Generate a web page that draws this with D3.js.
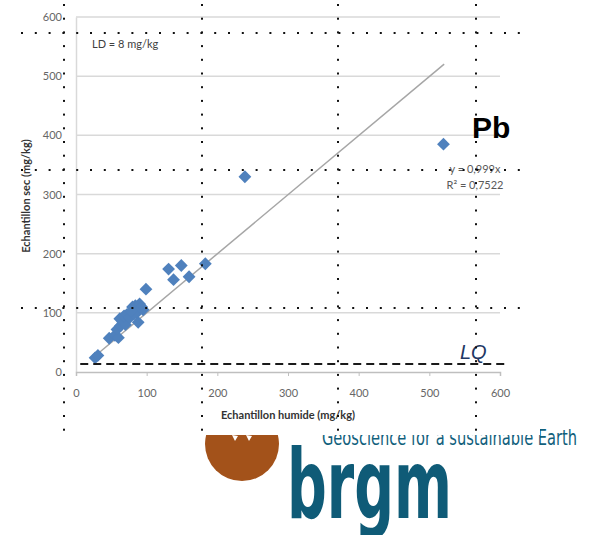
<!DOCTYPE html>
<html><head><meta charset="utf-8">
<script src="https://cdn.jsdelivr.net/npm/d3@7"></script>
<style>html,body{margin:0;padding:0;background:#fff;} svg{display:block;}</style>
</head><body>
<svg id="c" width="596" height="535"></svg>
<script>
// ---- data ----
const humide = [27, 31, 47, 55, 60, 58, 63, 66, 70, 62, 68, 72, 76, 80, 84, 88, 90, 93, 95, 86, 82, 78, 88, 99, 131, 138, 149, 160, 183, 239, 520];
const sec    = [24, 28, 57, 62, 58, 72, 78, 85, 80, 90, 95, 97, 92, 110, 112, 108, 115, 110, 105, 100, 98, 103, 84, 140, 174, 156, 180, 161, 183, 330, 385];
const xTicks = [0, 100, 200, 300, 400, 500, 600];
const yTicks = [0, 100, 200, 300, 400, 500, 600];
const slope = 0.999;
const fitRange = [27, 521];
const LQ = 13.5;
const lqRange = [6, 611];
const eqLines = ["y = 0,999x", "R² = 0,7522"];
const ldLabel = "LD = 8 mg/kg";
const element = "Pb";
const xTitle = "Echantillon humide (mg/kg)";
const yTitle = "Echantillon sec (mg/kg)";

const svg = d3.select("#c");
const F = "Lato, 'Open Sans', sans-serif";

// ---- logo (behind chart) ----
const logo = svg.append("g");
logo.append("defs").append("clipPath").attr("id","circClip")
  .append("rect").attr("x",0).attr("y",435).attr("width",596).attr("height",100);
logo.append("circle").attr("cx",242).attr("cy",444).attr("r",37)
  .attr("fill","#a3521a").attr("clip-path","url(#circClip)");
logo.append("path").attr("d","M232,435 L235,441 L238,436 Z M246,435 L249,441 L252,436 Z").attr("fill","#fff");
logo.append("text").attr("x",322).attr("y",445)
  .attr("font-family","'DejaVu Sans Condensed','DejaVu Sans',sans-serif")
  .attr("font-size",21).attr("fill","#11607c")
  .attr("textLength",255).attr("lengthAdjust","spacingAndGlyphs")
  .text("Geoscience for a sustainable Earth");
logo.append("text").attr("x",287).attr("y",518)
  .attr("font-family","'DejaVu Sans Condensed','DejaVu Sans',sans-serif")
  .attr("font-weight","bold").attr("font-size",96).attr("fill","#0f5b77")
  .attr("textLength",165).attr("lengthAdjust","spacingAndGlyphs")
  .text("brgm");
// chart picture background covering top of logo
svg.append("rect").attr("x",0).attr("y",0).attr("width",540).attr("height",435).attr("fill","#fff");

// ---- chart ----
const x = d3.scaleLinear().domain([0,600]).range([76,500]);
const y = d3.scaleLinear().domain([0,600]).range([372,17]);

// gridlines
svg.append("g").selectAll("line").data(yTicks.filter(d=>d>0)).join("line")
  .attr("x1",x(0)).attr("x2",x(600)).attr("y1",d=>y(d)).attr("y2",d=>y(d))
  .attr("stroke","#d9d9d9").attr("stroke-width",1.5);

// y axis
const ya = svg.append("g").attr("transform",`translate(${x(0)},0)`)
  .call(d3.axisLeft(y).tickValues(yTicks).tickSize(0).tickPadding(14));
ya.select(".domain").attr("stroke","#d9d9d9").attr("stroke-width",1.5);
ya.selectAll("text").attr("font-family",F).attr("font-size",11).attr("fill","#666");

// x axis
const xa = svg.append("g").attr("transform",`translate(0,${y(0)})`)
  .call(d3.axisBottom(x).tickValues(xTicks).tickSize(4).tickPadding(13));
xa.select(".domain").attr("stroke","#bfbfbf").attr("stroke-width",1.5);
xa.selectAll(".tick line").attr("stroke","#bfbfbf");
xa.selectAll("text").attr("font-family",F).attr("font-size",11).attr("fill","#666");

// axis titles
svg.append("text").attr("x",288).attr("y",419).attr("text-anchor","middle")
  .attr("font-family",F).attr("font-weight","bold").attr("font-size",11).attr("fill","#333")
  .text(xTitle);
svg.append("text").attr("transform","translate(30,196) rotate(-90)").attr("text-anchor","middle")
  .attr("font-family",F).attr("font-weight","bold").attr("font-size",11).attr("fill","#333")
  .text(yTitle);

// trend line
svg.append("line").attr("x1",x(fitRange[0])).attr("y1",y(slope*fitRange[0]))
  .attr("x2",x(fitRange[1])).attr("y2",y(slope*fitRange[1]))
  .attr("stroke","#a6a6a6").attr("stroke-width",1.5);

// points
const pts = humide.map((h,i)=>({h, s:sec[i]}));
svg.append("g").selectAll("path").data(pts).join("path")
  .attr("d", d3.symbol(d3.symbolSquare, 82)())
  .attr("transform", d=>`translate(${x(d.h)},${y(d.s)}) rotate(45)`)
  .attr("fill","#4f81bd");

// LQ dashed line
svg.append("line").attr("x1",x(lqRange[0])).attr("x2",x(lqRange[1]))
  .attr("y1",y(LQ)).attr("y2",y(LQ))
  .attr("stroke","#1a1a1a").attr("stroke-width",2).attr("stroke-dasharray","8,5");
svg.append("text").attr("x",460).attr("y",359)
  .attr("font-family","'Liberation Sans',Arial,sans-serif").attr("font-style","italic")
  .attr("font-size",20).attr("fill","#1f3864").text("LQ");

// annotations
svg.append("text").attr("x",92).attr("y",48).attr("font-family",F).attr("font-size",11)
  .attr("fill","#404040").text(ldLabel);
svg.append("g").selectAll("text").data(eqLines).join("text")
  .attr("x",475).attr("y",(d,i)=>173+i*16).attr("text-anchor","middle")
  .attr("font-family",F).attr("font-size",11).attr("fill","#595959").text(d=>d);
svg.append("text").attr("x",472).attr("y",138)
  .attr("font-family","'Liberation Sans',Arial,sans-serif").attr("font-weight","bold")
  .attr("font-size",30).attr("fill","#000").text(element);

// dotted guide lines
const dots = svg.append("g").attr("fill","#111");
[64, 202, 338, 476].forEach(px=>{
  d3.range(32).forEach(i=>{
    dots.append("rect").attr("x",px-1).attr("y",5+i*13.7-1).attr("width",2).attr("height",2);
  });
});
[33, 170, 308].forEach(py=>{
  d3.range(37).forEach(i=>{
    dots.append("rect").attr("x",22+i*13.8-1).attr("y",py-1).attr("width",2).attr("height",2);
  });
});
</script>
</body></html>
